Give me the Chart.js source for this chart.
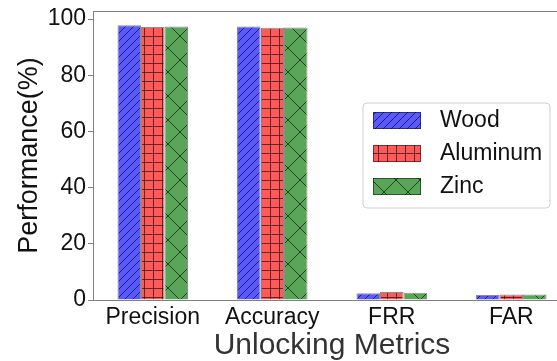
<!DOCTYPE html>
<html>
<head>
<meta charset="utf-8">
<script src="https://cdn.jsdelivr.net/npm/chart.js@4/dist/chart.umd.min.js"></script>
<style>
  html, body { margin: 0; padding: 0; background: #fff; overflow: hidden; }
  #wrap { width: 557px; height: 361px; overflow: hidden; }
</style>
</head>
<body>
<div id="wrap"><canvas id="c" width="572" height="361"></canvas></div>
<script>
// data
const metrics = ['Precision', 'Accuracy', 'FRR', 'FAR'];
const wood = [97.8, 97.4, 2.4, 1.8];
const aluminum = [97.2, 96.9, 2.85, 2.0];
const zinc = [97.4, 97.0, 2.6, 2.0];
const yTicks = [0, 20, 40, 60, 80, 100];

const FONT = '"Liberation Sans", Arial, sans-serif';

// hatch patterns like matplotlib's '///', '+', 'x'
function hatch(fill, kind) {
    const s = kind === 'diag' ? 8 : (kind === 'grid' ? 9 : 24);
    const c = document.createElement('canvas');
    c.width = s; c.height = s;
    const g = c.getContext('2d');
    g.fillStyle = fill;
    g.fillRect(0, 0, s, s);
    g.strokeStyle = 'rgba(0,0,0,0.6)';
    g.lineWidth = 1;
    g.beginPath();
    if (kind === 'diag') {
        g.moveTo(-1, s + 1); g.lineTo(s + 1, -1);
        g.moveTo(-1, 1); g.lineTo(1, -1);
        g.moveTo(s - 1, s + 1); g.lineTo(s + 1, s - 1);
    } else if (kind === 'grid') {
        g.moveTo(0.5, 0); g.lineTo(0.5, s);
        g.moveTo(0, 0.5); g.lineTo(s, 0.5);
    } else {
        g.moveTo(0, 0); g.lineTo(s, s);
        g.moveTo(s, 0); g.lineTo(0, s);
    }
    g.stroke();
    return g.createPattern(c, 'repeat');
}

const ctx = document.getElementById('c').getContext('2d');

// top spine + legend drawn inside the axes
const extras = {
    id: 'extras',
    afterDraw(chart) {
        const g = chart.ctx;
        const a = chart.chartArea;
        g.save();
        g.strokeStyle = '#808080';
        g.lineWidth = 1;
        g.beginPath();
        g.moveTo(a.left, a.top + 0.5);
        g.lineTo(a.right, a.top + 0.5);
        g.stroke();

        // legend box
        const bx = 363, by = 103, bw = 187, bh = 105, r = 4;
        g.beginPath();
        g.moveTo(bx + r, by);
        g.arcTo(bx + bw, by, bx + bw, by + bh, r);
        g.arcTo(bx + bw, by + bh, bx, by + bh, r);
        g.arcTo(bx, by + bh, bx, by, r);
        g.arcTo(bx, by, bx + bw, by, r);
        g.closePath();
        g.fillStyle = 'rgba(255,255,255,0.8)';
        g.fill();
        g.strokeStyle = '#d0d0d0';
        g.stroke();

        chart.data.datasets.forEach((ds, i) => {
            const cy = 120 + i * 33;
            g.fillStyle = ds.backgroundColor;
            g.fillRect(373, cy - 8, 48, 17);
            g.strokeStyle = 'rgba(0,0,0,0.5)';
            g.strokeRect(373.5, cy - 7.5, 47, 16);
            g.fillStyle = '#111';
            g.font = '23px ' + FONT;
            g.textBaseline = 'middle';
            g.fillText(ds.label, 440, cy + 1);
        });
        g.restore();
    }
};

new Chart(ctx, {
    type: 'bar',
    data: {
        labels: metrics,
        datasets: [
            { label: 'Wood', data: wood, backgroundColor: hatch('rgb(89,89,255)', 'diag') },
            { label: 'Aluminum', data: aluminum, backgroundColor: hatch('rgb(255,89,89)', 'grid') },
            { label: 'Zinc', data: zinc, backgroundColor: hatch('rgb(89,166,89)', 'cross') }
        ].map(d => Object.assign(d, {
            borderColor: 'rgba(0,0,0,0.45)',
            borderWidth: 1,
            categoryPercentage: 0.59,
            barPercentage: 1.0
        }))
    },
    options: {
        responsive: false,
        animation: false,
        layout: { autoPadding: false, padding: { top: 11, right: 1, left: 0, bottom: 0 } },
        plugins: {
            legend: { display: false },
            tooltip: { enabled: false }
        },
        scales: {
            x: {
                grid: { display: false },
                border: { color: '#808080' },
                ticks: {
                    color: '#111',
                    padding: -4,
                    font: { family: FONT, size: 23 }
                },
                title: {
                    display: true,
                    text: 'Unlocking Metrics',
                    color: '#333',
                    padding: { top: 0, bottom: -3 },
                    font: { family: FONT, size: 30 }
                },
                afterFit(s) {
                    s.height = 61;
                    s.paddingLeft = 0; s.paddingRight = 0;
                }
            },
            y: {
                min: 0,
                max: 102.9,
                afterBuildTicks(s) { s.ticks = yTicks.map(v => ({ value: v })); },
                grid: { drawOnChartArea: false, tickLength: 5, color: '#808080' },
                border: { color: '#808080' },
                ticks: {
                    color: '#111',
                    padding: 2,
                    font: { family: FONT, size: 23 }
                },
                title: {
                    display: true,
                    text: 'Performance(%)',
                    color: '#111',
                    padding: { top: 13, bottom: 0 },
                    font: { family: FONT, size: 27 }
                },
                afterFit(s) {
                    s.width = 93;
                    s.paddingTop = 0; s.paddingBottom = 0;
                }
            }
        }
    },
    plugins: [extras]
});
</script>
</body>
</html>
